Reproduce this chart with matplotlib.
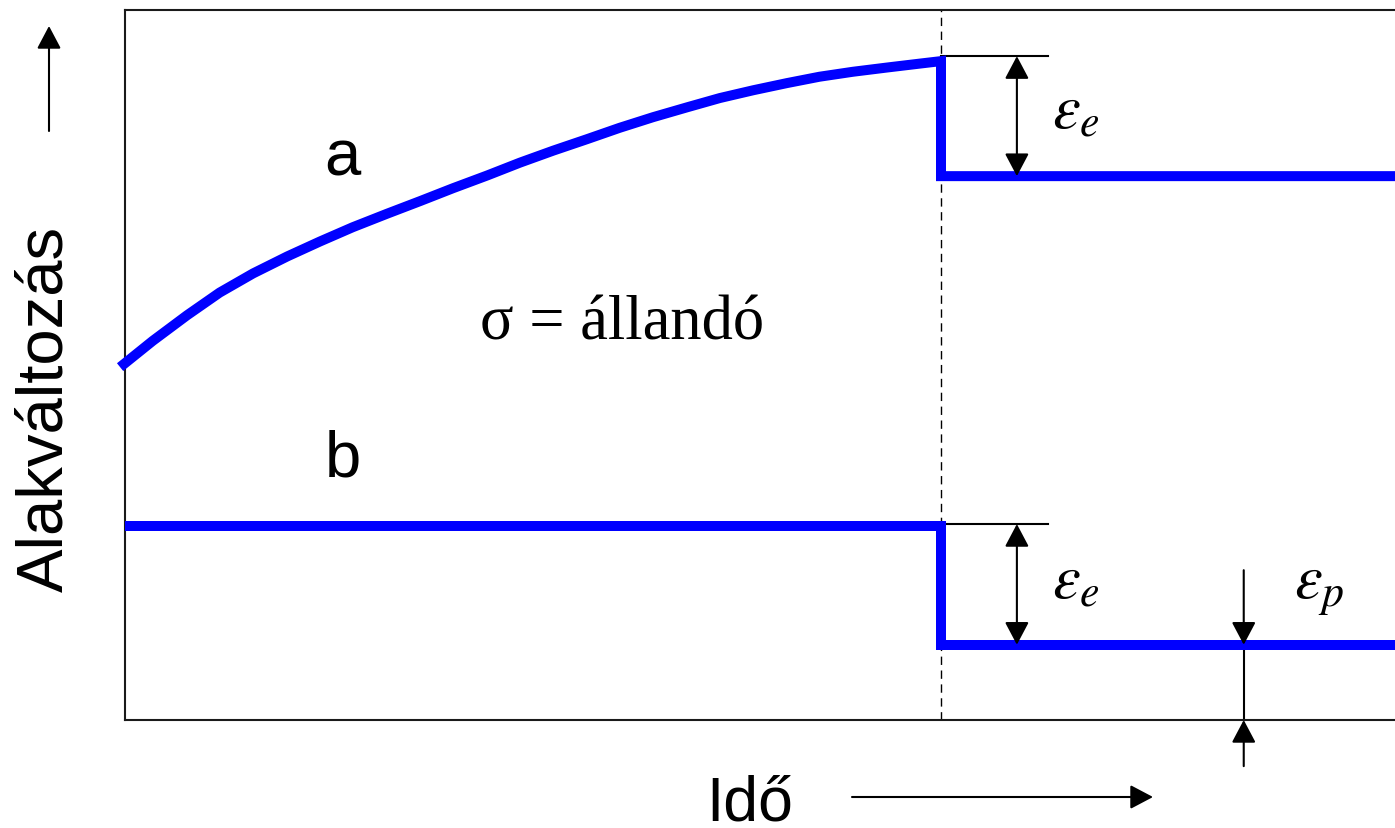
import matplotlib
matplotlib.use("Agg")
import matplotlib.pyplot as plt
from matplotlib.patches import FancyArrowPatch

plt.rcParams["mathtext.fontset"] = "stix"

# Creep curve (a): strain vs. time under constant stress, then unloading at t = 1
t_a = [-0.006, 0.034, 0.076, 0.116, 0.157, 0.199, 0.239, 0.279, 0.321, 0.362,
       0.402, 0.444, 0.484, 0.525, 0.566, 0.606, 0.647, 0.689, 0.729, 0.770,
       0.811, 0.851, 0.892, 0.934, 0.974, 1.0]
e_a = [4.97, 5.34, 5.70, 6.02, 6.29, 6.53, 6.74, 6.94, 7.13, 7.31,
       7.49, 7.67, 7.85, 8.02, 8.18, 8.34, 8.49, 8.63, 8.76, 8.87,
       8.97, 9.06, 9.13, 9.19, 9.245, 9.28]
e_a_after = 7.66

# Ideal elastic-plastic response (b)
e_b = 2.73
e_b_after = 1.06

t_unload = 1.0
t_end = 1.6
t_ep = 1.371          # where the permanent strain is marked
t_ee = 1.093          # where the elastic recovery is marked

BLUE = (0.0, 0.0, 1.0)

fig = plt.figure(figsize=(13.95, 8.29), dpi=100)
ax = fig.add_axes([125 / 1395, 108 / 829, 1270 / 1395, 710 / 829])
ax.set_xlim(0, 1270 / 816)
ax.set_ylim(0, 10)
ax.set_xticks([])
ax.set_yticks([])
for side in ("top", "left", "bottom"):
    ax.spines[side].set_linewidth(1.5)
    ax.spines[side].set_color("#1a1a1a")
ax.spines["right"].set_visible(False)

# curves
ax.plot(t_a + [t_unload, t_end], e_a + [e_a_after, e_a_after],
        color=BLUE, lw=7.2, solid_joinstyle="miter", solid_capstyle="butt",
        clip_on=False, zorder=3)
ax.plot([0, t_unload, t_unload, t_end], [e_b, e_b, e_b_after, e_b_after],
        color=BLUE, lw=7.2, solid_joinstyle="miter", solid_capstyle="butt",
        zorder=3)

# unloading instant
ax.axvline(t_unload, color="k", lw=1.0, ls=(0, (6, 4)), zorder=2)

arrow_kw = dict(color="k", lw=1.5, shrinkA=0, shrinkB=0, mutation_scale=20)
head = "head_length=0.7,head_width=0.37"

# elastic recovery markers
off = 0.07
top_a = e_a[-1] + off
ax.plot([t_unload, 1.131], [top_a, top_a], color="k", lw=1.5, zorder=2)
ax.annotate("", xy=(t_ee, e_a_after), xytext=(t_ee, top_a),
            arrowprops=dict(arrowstyle="<|-|>," + head, **arrow_kw))
ax.plot([t_unload, 1.131], [e_b + 0.03, e_b + 0.03], color="k", lw=1.5, zorder=2)
ax.annotate("", xy=(t_ee, e_b_after), xytext=(t_ee, e_b + 0.03),
            arrowprops=dict(arrowstyle="<|-|>," + head, **arrow_kw))

# permanent strain marker
ax.annotate("", xy=(t_ep, e_b_after), xytext=(t_ep, 2.11),
            arrowprops=dict(arrowstyle="-|>," + head, **arrow_kw))
ax.plot([t_ep, t_ep], [0, e_b_after], color="k", lw=1.5, zorder=2)
ax.annotate("", xy=(t_ep, 0), xytext=(t_ep, -0.65), annotation_clip=False,
            arrowprops=dict(arrowstyle="-|>," + head, **arrow_kw))

# labels inside the plot
sans = "Liberation Sans"
serif = "Liberation Serif"
ax.text(0.267, 7.69, "a", fontsize=47, family=sans, ha="center", va="baseline")
ax.text(0.267, 3.44, "b", fontsize=47, family=sans, ha="center", va="baseline")
ax.text(0.609, 5.37, "σ = állandó", fontsize=45, family=serif,
        ha="center", va="baseline")
ax.text(1.136, 8.35, r"$\varepsilon_e$", fontsize=45, ha="left", va="baseline")
ax.text(1.136, 1.73, r"$\varepsilon_e$", fontsize=45, ha="left", va="baseline")
ax.text(1.433, 1.73, r"$\varepsilon_p$", fontsize=45, ha="left", va="baseline")

# axis titles with direction arrows
fig.text(62 / 1395, 1 - 409 / 829, "Alakváltozás", fontsize=47, family=sans,
         rotation=90, rotation_mode="anchor", ha="center", va="baseline")
fig.text(750 / 1395, 1 - 821 / 829, "Idő", fontsize=45, family=sans,
         ha="center", va="baseline")
fig_arrow = dict(arrowstyle="-|>," + head, **arrow_kw)
fig.add_artist(FancyArrowPatch(
    (49 / 1395, 1 - 132 / 829), (49 / 1395, 1 - 27 / 829),
    transform=fig.transFigure, **fig_arrow))
fig.add_artist(FancyArrowPatch(
    (852 / 1395, 1 - 798 / 829), (1153 / 1395, 1 - 798 / 829),
    transform=fig.transFigure, **fig_arrow))

fig.savefig("out.png", dpi=100, facecolor="white")
